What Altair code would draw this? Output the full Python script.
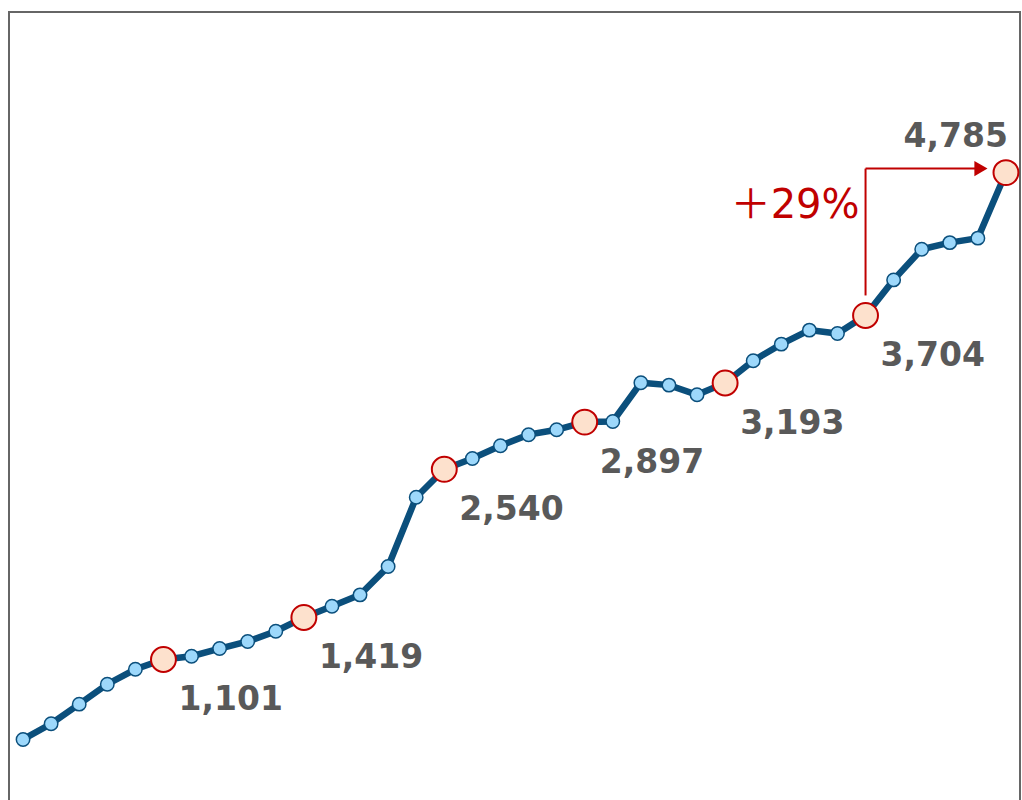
import altair as alt
import pandas as pd

# Monthly series (period index and value)
periods = list(range(1, 37))
values = [496, 615, 763, 914, 1027, 1101, 1126, 1184, 1237, 1315,
          1419, 1504, 1590, 1804, 2328, 2540, 2622, 2718, 2802, 2839,
          2897, 2902, 3195, 3177, 3104, 3193, 3361, 3487, 3593, 3567,
          3704, 3973, 4205, 4255, 4289, 4785]
# Periods that get a highlighted marker and a value label
highlight_periods = [6, 11, 16, 21, 26, 31, 36]
# Growth annotation between these two periods
growth_from, growth_to = 31, 36

df = pd.DataFrame({"period": periods, "value": values})
df["highlight"] = df["period"].isin(highlight_periods)

v_from = df.loc[df["period"] == growth_from, "value"].iloc[0]
v_to = df.loc[df["period"] == growth_to, "value"].iloc[0]
growth_pct = round((v_to / v_from - 1) * 100)
arrow_df = pd.DataFrame({"x": [growth_from], "x2": [growth_to],
                         "y": [v_from], "y2": [v_to],
                         "label": [f"＋{growth_pct}%"]})

DARK = "#0b4f7c"
LIGHT = "#9dd8fb"
RED = "#c00000"
PEACH = "#fde1cd"
GRAY = "#595959"

xs = alt.Scale(domain=[0.5, 36.5], nice=False, zero=False)
ys = alt.Scale(domain=[0, 6000], nice=False)

base = alt.Chart(df).encode(
    x=alt.X("period:Q", scale=xs, axis=None),
    y=alt.Y("value:Q", scale=ys, axis=None),
)

line = base.mark_line(color=DARK, strokeWidth=6.5)
dots = base.mark_point(shape="circle", filled=True, fill=LIGHT, stroke=DARK,
                       strokeWidth=1.5, size=180, opacity=1)
hi = base.transform_filter("datum.highlight").mark_point(
    shape="circle", filled=True, fill=PEACH, stroke=RED,
    strokeWidth=2, size=620, opacity=1)

labels = base.transform_filter(
    f"datum.highlight && datum.period != {growth_to}"
).mark_text(align="left", baseline="alphabetic", dx=15, dy=51,
            font="DejaVu Sans", fontSize=33, fontWeight="bold", color=GRAY
).encode(text=alt.Text("value:Q", format=","))

last_label = base.transform_filter(
    f"datum.period == {growth_to}"
).mark_text(align="right", baseline="alphabetic", dx=2, dy=-26,
            font="DejaVu Sans", fontSize=33, fontWeight="bold", color=GRAY
).encode(text=alt.Text("value:Q", format=","))

arrow_base = alt.Chart(arrow_df)
vert = arrow_base.mark_rule(color=RED, strokeWidth=2, yOffset=-20, y2Offset=-4).encode(
    x=alt.X("x:Q", scale=xs, axis=None),
    y=alt.Y("y:Q", scale=ys, axis=None),
    y2="y2:Q",
)
horiz = arrow_base.mark_rule(color=RED, strokeWidth=2, yOffset=-4, x2Offset=-30).encode(
    x=alt.X("x:Q", scale=xs, axis=None),
    x2="x2:Q",
    y=alt.Y("y2:Q", scale=ys, axis=None),
)
head = arrow_base.mark_point(shape="triangle-right", filled=True, fill=RED,
                             stroke=RED, strokeWidth=0, size=230, opacity=1,
                             xOffset=-25, yOffset=-4).encode(
    x=alt.X("x2:Q", scale=xs, axis=None),
    y=alt.Y("y2:Q", scale=ys, axis=None),
)
growth_text = arrow_base.mark_text(
    align="right", baseline="alphabetic", dx=-6, dy=45,
    font="DejaVu Sans, Noto Sans CJK JP", fontSize=40, color=RED
).encode(
    x=alt.X("x:Q", scale=xs, axis=None),
    y=alt.Y("y2:Q", scale=ys, axis=None),
    text="label:N",
)

chart = alt.layer(line, dots, hi, labels, last_label, vert, horiz, head, growth_text).properties(
    width=1011, height=793,
    padding={"left": 9, "top": 12, "right": 2, "bottom": 0},
    autosize=alt.AutoSizeParams(type="none"),
    background="white",
).configure_view(stroke="#666666", strokeWidth=2)

chart.save("out.html", embed_options={"renderer": "svg", "actions": False})
